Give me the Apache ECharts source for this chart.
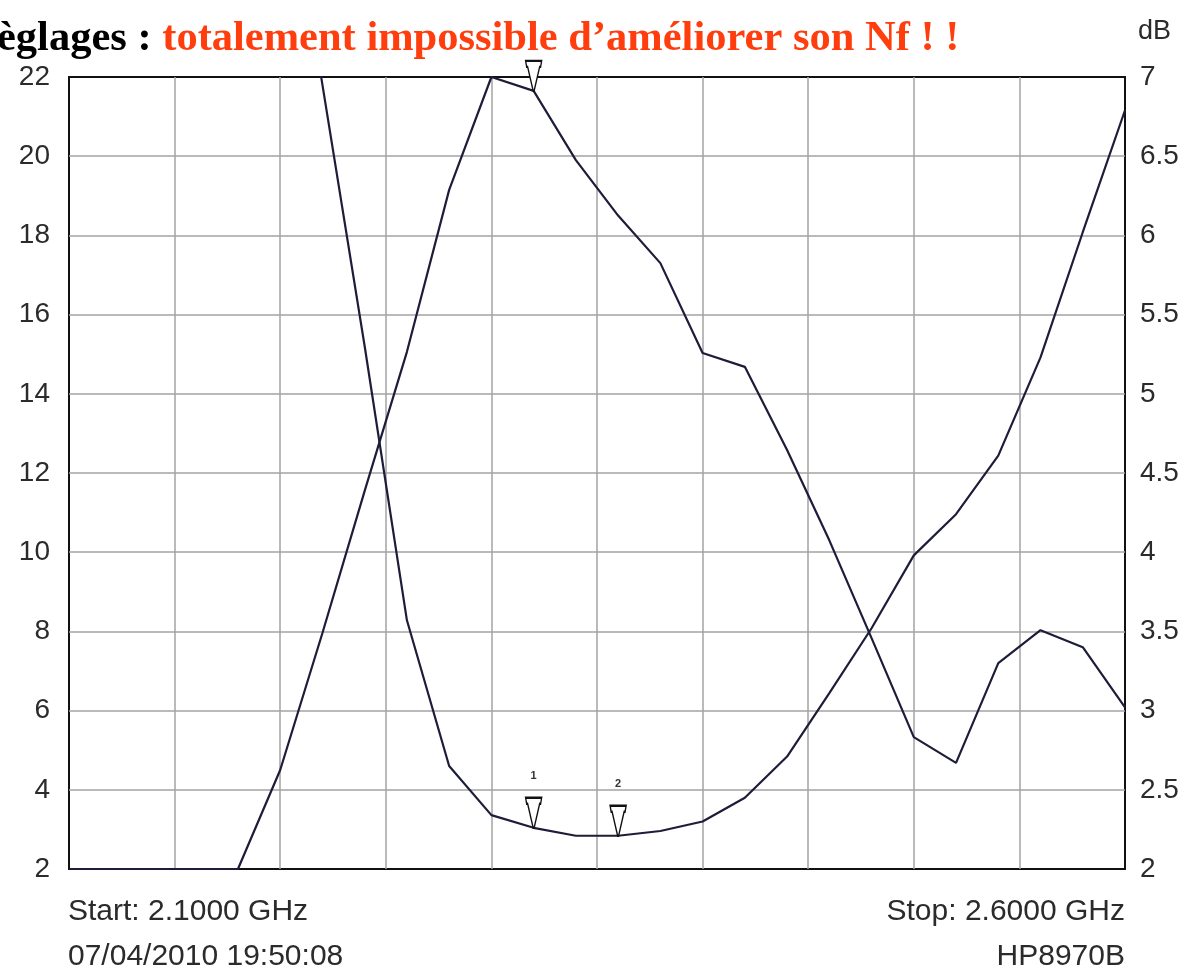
<!DOCTYPE html>
<html>
<head>
<meta charset="utf-8">
<script src="https://cdn.jsdelivr.net/npm/echarts@6/dist/echarts.min.js"></script>
<style>
  html, body { margin: 0; padding: 0; background: #fff; }
  #chart { width: 1193px; height: 971px; }
</style>
</head>
<body>
<div id="chart"></div>
<script>
// sweep points (GHz)
const freqs = [2.10, 2.12, 2.14, 2.16, 2.18, 2.20, 2.22, 2.24, 2.26, 2.28, 2.30, 2.32, 2.34,
               2.36, 2.38, 2.40, 2.42, 2.44, 2.46, 2.48, 2.50, 2.52, 2.54, 2.56, 2.58, 2.60];
// gain trace, left scale (dB)
const gain = [2, 2, 2, 2, 2, 4.5, 7.96, 11.55, 15.06, 19.15, 22.0, 21.65, 19.9,
              18.5, 17.3, 15.03, 14.68, 12.58, 10.3, 7.83, 5.33, 4.68, 7.2, 8.03, 7.6, 6.08];
// noise figure trace, right scale (dB) - starts above the top of the screen
const noiseFig = [null, null, null, null, null, 8.6, 6.95, 5.3, 3.57, 2.65, 2.34, 2.26, 2.21,
                  2.21, 2.24, 2.3, 2.45, 2.71, 3.11, 3.52, 3.98, 4.24, 4.61, 5.23, 6.02, 6.79];
const markerIdx = [11, 13];
const markerNames = ["1", "2"];

const chart = echarts.init(document.getElementById("chart"));

const txt = "#2b2b2b";
const gridCol = "#a3a3a3";
const traceCol = "#1d1d3a";
// marker: small box on top of a V pointing at the trace
const mkSymbol = "path://M0,0 L16,0 L15,6 L14,6 L8.5,30 L7.5,30 L2,6 L1,6 Z";

const option = {
  backgroundColor: "#fff",
  animation: false,
  grid: {
    left: 69, right: 68, top: 77, bottom: 102,
    show: true, borderColor: "#111", borderWidth: 2
  },
  xAxis: {
    type: "value", min: 2.1, max: 2.6, interval: 0.05,
    axisLine: { show: false }, axisTick: { show: false }, axisLabel: { show: false },
    splitLine: { showMinLine: false, showMaxLine: false, lineStyle: { color: gridCol, width: 1.5 } }
  },
  yAxis: [
    {
      type: "value", min: 2, max: 22, interval: 2, position: "left",
      axisLine: { show: false }, axisTick: { show: false },
      axisLabel: { margin: 19, color: txt, fontSize: 28, fontFamily: "Liberation Sans" },
      splitLine: { showMinLine: false, showMaxLine: false, lineStyle: { color: gridCol, width: 1.5 } }
    },
    {
      type: "value", min: 2, max: 7, interval: 0.5, position: "right",
      axisLine: { show: false }, axisTick: { show: false },
      axisLabel: { margin: 15, color: txt, fontSize: 28, fontFamily: "Liberation Sans" },
      splitLine: { show: false }
    }
  ],
  series: [
    {
      name: "Gain", type: "line", yAxisIndex: 0, symbol: "none",
      lineStyle: { color: traceCol, width: 2.2 },
      data: freqs.map((f, i) => [f, gain[i]]),
      markPoint: {
        symbol: mkSymbol, symbolSize: [16, 30], symbolOffset: [0, "-50%"],
        itemStyle: { color: "#fff", borderColor: "#111", borderWidth: 1.8 },
        label: { show: false },
        data: [{ coord: [freqs[markerIdx[0]], gain[markerIdx[0]]] }]
      }
    },
    {
      name: "NF", type: "line", yAxisIndex: 1, symbol: "none",
      lineStyle: { color: traceCol, width: 2.2 },
      data: freqs.map((f, i) => [f, noiseFig[i]]),
      markPoint: {
        symbol: mkSymbol, symbolSize: [16, 30], symbolOffset: [0, "-50%"],
        itemStyle: { color: "#fff", borderColor: "#111", borderWidth: 1.8 },
        label: {
          show: true, position: "top", distance: 15,
          color: "#333", fontSize: 11, fontWeight: "bold", fontFamily: "Liberation Sans",
          formatter: (p) => p.name
        },
        data: markerIdx.map((k, j) => ({ name: markerNames[j], coord: [freqs[k], noiseFig[k]] }))
      }
    }
  ],
  graphic: [
    {
      type: "text", left: -3, top: 18,
      style: {
        text: "{a|èglages : }{b|totalement impossible d’améliorer son Nf ! !}",
        rich: {
          a: { font: "bold 42.5px 'Liberation Serif'", fill: "#000" },
          b: { font: "bold 42.5px 'Liberation Serif'", fill: "#ff3d0d" }
        }
      }
    },
    { type: "text", left: 1138, top: 18,
      style: { text: "dB", font: "27px 'Liberation Sans'", fill: txt } },
    { type: "text", left: 68, top: 897,
      style: { text: "Start: 2.1000 GHz", font: "30px 'Liberation Sans'", fill: txt } },
    { type: "text", left: 68, top: 942,
      style: { text: "07/04/2010 19:50:08", font: "30px 'Liberation Sans'", fill: txt } },
    { type: "text", right: 68, top: 897,
      style: { text: "Stop: 2.6000 GHz", font: "30px 'Liberation Sans'", fill: txt } },
    { type: "text", right: 68, top: 942,
      style: { text: "HP8970B", font: "30px 'Liberation Sans'", fill: txt } }
  ]
};

chart.setOption(option);
</script>
</body>
</html>
